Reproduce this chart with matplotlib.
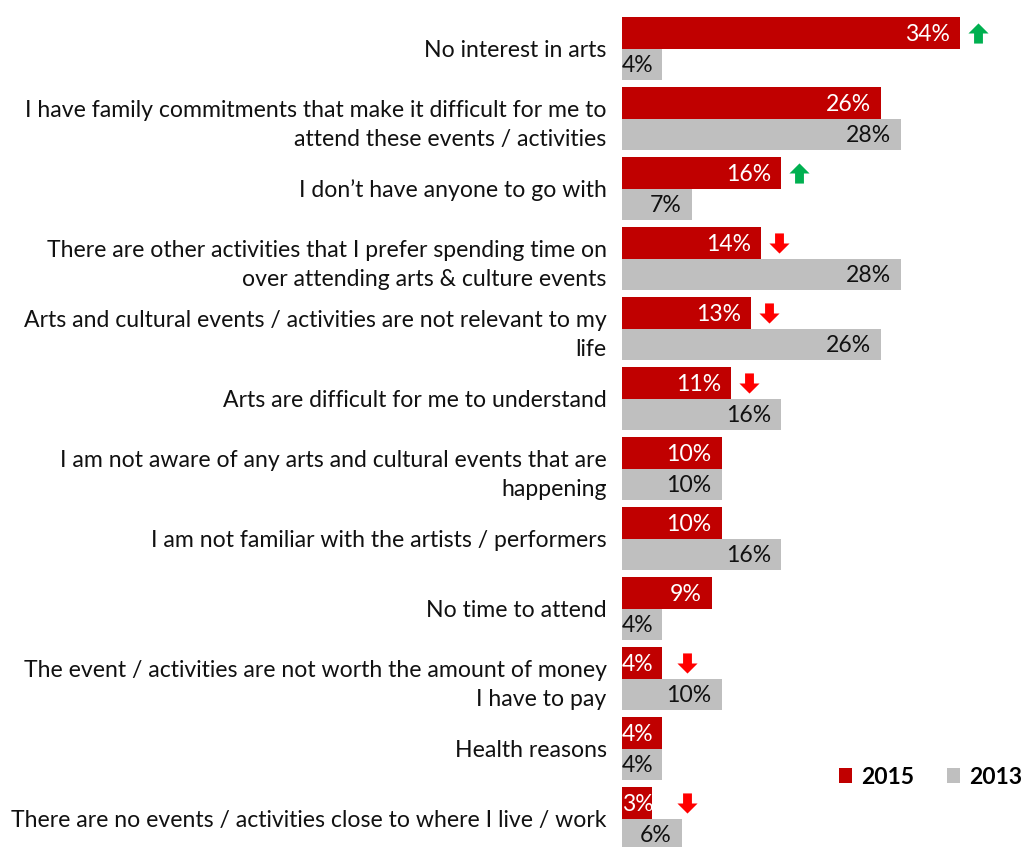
import matplotlib
matplotlib.use("Agg")
import matplotlib.pyplot as plt
from matplotlib.path import Path
import numpy as np

# Survey: reasons for not attending arts & culture events (% of respondents)
reasons = [
    "No interest in arts",
    "I have family commitments that make it difficult for me to\nattend these events / activities",
    "I don\u2019t have anyone to go with",
    "There are other activities that I prefer spending time on\nover attending arts & culture events",
    "Arts and cultural events / activities are not relevant to my\nlife",
    "Arts are difficult for me to understand",
    "I am not aware of any arts and cultural events that are\nhappening",
    "I am not familiar with the artists / performers",
    "No time to attend",
    "The event / activities are not worth the amount of money\nI have to pay",
    "Health reasons",
    "There are no events / activities close to where I live / work",
]
values_2015 = [34, 26, 16, 14, 13, 11, 10, 10, 9, 4, 4, 3]
values_2013 = [4, 28, 7, 28, 26, 16, 10, 16, 4, 10, 4, 6]
# significant change vs 2013: +1 up, -1 down, 0 none
change = [1, 0, 1, -1, -1, -1, 0, 0, 0, -1, 0, -1]

RED = "#C00000"
GREY = "#BFBFBF"
UP_GREEN = "#00B050"
DOWN_RED = "#FF0000"
FONT = "Lato"
FS = 16.6

plt.rcParams["font.family"] = [FONT, "DejaVu Sans"]

W, H = 1025, 847
fig = plt.figure(figsize=(W / 100, H / 100), dpi=100)
x0 = 622
ax = fig.add_axes([x0 / W, 0, (W - x0) / W, 1])

n = len(reasons)
y = np.arange(n)
bh = 0.45
bars15 = ax.barh(y - bh / 2, values_2015, height=bh, color=RED, label="2015")
bars13 = ax.barh(y + bh / 2, values_2013, height=bh, color=GREY, label="2013")

ax.set_xlim(0, (W - x0) / 9.95)
ax.set_ylim(n - 1 + 0.407, -0.693)

ax.set_yticks(y)
ax.set_yticklabels(reasons, fontsize=FS, color="#111111", linespacing=1.5,
                   ha="right")
ax.tick_params(axis="y", length=0, pad=11)
ax.set_xticks([])
for s in ax.spines.values():
    s.set_visible(False)

# value labels at the inside end of each bar
def label_bars(vals, yy, color):
    for v, yc in zip(vals, yy):
        xr = max(v - 1.0, 3.2)
        ax.text(xr, yc, f"{v}%", ha="right", va="center", fontsize=FS,
                color=color)

label_bars(values_2015, y - bh / 2 + 0.02, "white")
label_bars(values_2013, y + bh / 2 + 0.02, "#111111")

# block arrow markers for significant changes
up_verts = [(-0.22, -0.5), (0.22, -0.5), (0.22, 0.0), (0.5, 0.0), (0.0, 0.5),
            (-0.5, 0.0), (-0.22, 0.0), (-0.22, -0.5)]
up_path = Path(up_verts, closed=True)
down_path = Path([(vx, -vy) for vx, vy in up_verts], closed=True)

for v, yc, c in zip(values_2015, y - bh / 2, change):
    if c == 0:
        continue
    xa = max(v + 1.8, 6.5)
    ax.plot(xa, yc, marker=up_path if c > 0 else down_path,
            markersize=14.5, color=UP_GREEN if c > 0 else DOWN_RED,
            markeredgewidth=0, linestyle="none")

leg = ax.legend(handles=[bars15, bars13], loc="center right",
                bbox_to_anchor=(1.0, 1 - 777 / H), bbox_transform=fig.transFigure,
                ncol=2, frameon=False, handlelength=0.6, handleheight=0.6,
                handletextpad=0.4, columnspacing=1.4,
                prop={"family": FONT, "weight": "bold", "size": 16.5},
                borderaxespad=0, borderpad=0.1)

fig.savefig("out.png", dpi=100)
